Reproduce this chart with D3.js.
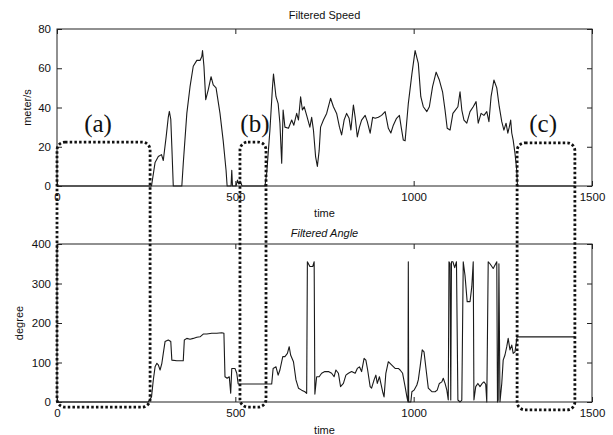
<!DOCTYPE html>
<html>
<head>
<meta charset="utf-8">
<script src="https://cdn.jsdelivr.net/npm/d3@7"></script>
<style>
  html, body { margin: 0; padding: 0; background: #fff; }
  svg { display: block; }
  text { font-family: "Liberation Sans", Arial, Helvetica, sans-serif; fill: #111; }
  .tick text { font-size: 11.5px; }
  .tick line { stroke: #222; stroke-width: 1; }
</style>
</head>
<body>
<svg id="chart" width="613" height="435"></svg>
<script>
// Time ticks shared by both panels, plus each panel's value ticks
const timeTicks = [0, 500, 1000, 1500];
const speedTicks = [0, 20, 40, 60, 80];
const angleTicks = [0, 100, 200, 300, 400];

// Filtered speed, [time, meter/s]
const speedData = [
  [0, 0], [265, 0], [275, 12], [284, 15], [293, 16], [298, 13], [306, 25], [312, 35],
  [315, 38], [319, 34], [322, 20], [326, 0], [350, 0], [354, 11.5], [364, 37], [373, 50.6],
  [382, 61], [392, 64], [401, 64], [406, 66], [408, 69], [412, 61], [417, 44], [424, 49],
  [432, 55.7], [438, 51.5], [446, 50], [457, 37], [466, 23], [474, 8], [477, 0], [488, 0],
  [490, 8], [492, 0], [502, 0], [506, 3], [510, 1], [513, 2.5], [519, 0], [583, 0],
  [588, 6.6], [597, 28.5], [604, 50], [607, 57], [614, 45.5], [620, 42], [625, 32], [630, 11.6],
  [634, 38.7], [639, 30], [649, 29.4], [658, 33.6], [664, 31], [672, 37], [677, 33.6], [683, 45.5],
  [688, 38.7], [693, 40.4], [700, 36], [709, 30], [714, 35], [719, 28.5], [725, 15], [730, 10],
  [735, 18], [739, 30], [747, 33.6], [756, 37], [767, 44.7], [775, 40.4], [784, 37], [792, 30],
  [798, 26], [805, 33.6], [812, 37], [819, 34.5], [824, 28.5], [831, 41.3], [836, 35], [842, 25],
  [848, 30], [854, 33.6], [864, 36], [870, 32.8], [878, 26.9], [885, 35], [892, 34.5], [901, 35],
  [910, 36], [920, 37.9], [929, 29.4], [936, 27], [943, 31], [952, 34.5], [960, 36], [965, 30],
  [971, 23.4], [976, 23], [985, 42], [995, 57], [1004, 69], [1013, 62.5], [1020, 45.5], [1027, 40.4],
  [1037, 37.9], [1044, 40.4], [1053, 50.6], [1063, 58], [1072, 54], [1081, 48], [1088, 38.7], [1094, 29.4],
  [1102, 28.5], [1110, 37], [1117, 38.7], [1124, 40.4], [1130, 48], [1135, 38.7], [1141, 33.6], [1149, 32],
  [1158, 37.9], [1167, 40.4], [1175, 43], [1181, 32], [1189, 37], [1197, 36], [1205, 37.9], [1211, 32.8],
  [1217, 45.5], [1225, 54], [1233, 50], [1240, 40.4], [1247, 32.8], [1253, 28.5], [1259, 32], [1264, 26.9],
  [1268, 30], [1272, 33.6], [1275, 27], [1279, 23.4], [1284, 16.7], [1289, 8], [1291, 0], [1452, 0]
];

// Filtered angle, [time, degree]
const angleData = [
  [0, 0], [256, 0], [265, 13], [270, 55.7], [275, 89], [280, 98], [284, 94], [289, 81],
  [294, 98], [298, 123], [303, 153], [312, 157], [319, 153], [322, 106], [336, 104.6], [354, 104.6],
  [357, 157], [364, 161], [373, 159], [382, 161], [392, 164], [401, 165], [410, 172], [420, 172],
  [434, 174], [448, 174], [462, 175.5], [468, 174], [471, 64], [477, 60], [483, 64], [487, 22],
  [490, 85], [499, 85], [504, 72.7], [508, 45.6], [602, 45.6], [606, 85], [614, 89], [620, 68],
  [625, 81], [633, 115], [639, 115], [646, 123], [651, 140], [655, 119], [663, 102], [670, 56],
  [677, 35], [686, 30], [695, 26], [700, 22], [702, 355], [709, 343], [717, 343], [721, 355],
  [723, 20], [728, 64], [735, 64], [742, 72.7], [751, 77], [761, 77], [770, 72.7], [777, 64],
  [782, 81], [789, 72.7], [795, 39], [803, 47], [810, 68], [817, 72.7], [826, 77], [836, 72.7],
  [842, 85], [848, 89], [854, 77], [861, 110.6], [866, 106], [871, 81], [878, 39], [882, 35],
  [889, 56], [894, 68], [898, 47], [904, 64], [908, 47], [913, 26], [917, 13], [922, 72.7],
  [929, 102], [938, 94], [948, 85], [957, 85], [962, 81], [969, 72.7], [976, 39], [981, 13],
  [984, 0], [985, 355], [986, 0], [992, 0], [995, 26], [1001, 30], [1009, 43], [1013, 56],
  [1018, 89], [1024, 132], [1029, 127], [1035, 81], [1041, 35], [1051, 26], [1060, 26], [1066, 30],
  [1072, 47], [1079, 51], [1083, 60], [1088, 47], [1093, 30], [1097, 5], [1099, 355], [1102, 350],
  [1104, 5], [1106, 355], [1110, 355], [1115, 340], [1120, 355], [1124, 5], [1130, 0], [1135, 5],
  [1139, 355], [1144, 320], [1150, 254], [1158, 254], [1163, 292], [1167, 355], [1169, 5], [1174, 39],
  [1180, 47], [1186, 39], [1192, 47], [1197, 51], [1202, 45], [1205, 0], [1209, 355], [1214, 350],
  [1223, 338], [1233, 355], [1235, 0], [1237, 5], [1239, 350], [1242, 1], [1247, 47], [1251, 106],
  [1256, 119], [1261, 140], [1265, 161], [1270, 132], [1275, 144], [1279, 123], [1284, 127], [1290, 165],
  [1452, 165]
];

// Dotted callouts spanning both panels: time range, top (speed units), bottom (degree units)
const callouts = [
  { label: "(a)", t0: 0,    t1: 261,  top: 22.4, bottom: -13, labelT: 115 },
  { label: "(b)", t0: 513,  t1: 586,  top: 22.4, bottom: -13, labelT: 555 },
  { label: "(c)", t0: 1290, t1: 1452, top: 22,   bottom: -20, labelT: 1363 }
];
const calloutLabelSpeed = 27.5;

const svg = d3.select("#chart");

const x = d3.scaleLinear().domain([0, 1500]).range([57, 592]);
const ySpeed = d3.scaleLinear().domain([0, 80]).range([186, 29]);
const yAngle = d3.scaleLinear().domain([0, 400]).range([402, 244]);
const plain = d3.format("d");

function panel(y, ticks, data, title, titleY, italic, yLabel, yLabelX, timeY) {
  const g = svg.append("g");
  const [y0, y1] = y.range();

  // trace
  g.append("path")
    .datum(data)
    .attr("fill", "none")
    .attr("stroke", "#1a1a1a")
    .attr("stroke-width", 1.1)
    .attr("stroke-linejoin", "round")
    .attr("d", d3.line().x(d => x(d[0])).y(d => y(d[1])));

  // axes with inward ticks on all four sides
  const bottom = g.append("g").attr("transform", `translate(0,${y0})`)
    .call(d3.axisBottom(x).tickValues(timeTicks).tickFormat(plain)
      .tickSizeInner(-5).tickSizeOuter(0).tickPadding(7));
  const top = g.append("g").attr("transform", `translate(0,${y1})`)
    .call(d3.axisTop(x).tickValues(timeTicks).tickSizeInner(-5).tickSizeOuter(0).tickFormat(""));
  const left = g.append("g").attr("transform", `translate(${x.range()[0]},0)`)
    .call(d3.axisLeft(y).tickValues(ticks).tickFormat(plain)
      .tickSizeInner(-5).tickSizeOuter(0).tickPadding(6));
  const right = g.append("g").attr("transform", `translate(${x.range()[1]},0)`)
    .call(d3.axisRight(y).tickValues(ticks).tickSizeInner(-5).tickSizeOuter(0).tickFormat(""));
  [bottom, top, left, right].forEach(a => a.select(".domain").remove());

  // frame
  g.append("rect")
    .attr("x", x.range()[0]).attr("y", y1)
    .attr("width", x.range()[1] - x.range()[0]).attr("height", y0 - y1)
    .attr("fill", "none").attr("stroke", "#222").attr("stroke-width", 1);

  const cx = (x.range()[0] + x.range()[1]) / 2;
  g.append("text").attr("x", cx).attr("y", titleY)
    .attr("text-anchor", "middle").attr("font-size", 11)
    .attr("font-style", italic ? "italic" : "normal")
    .text(title);
  g.append("text").attr("x", cx).attr("y", timeY)
    .attr("text-anchor", "middle").attr("font-size", 11)
    .text("time");
  g.append("text")
    .attr("transform", `translate(${yLabelX},${(y0 + y1) / 2}) rotate(-90)`)
    .attr("text-anchor", "middle").attr("font-size", 11)
    .text(yLabel);
}

panel(ySpeed, speedTicks, speedData, "Filtered Speed", 19, false, "meter/s", 31, 217);
panel(yAngle, angleTicks, angleData, "Filtered Angle", 237, true, "degree", 23, 434);

// rounded dotted callout boxes
function roundedBox(x0, y0, x1, y1, r) {
  const p = d3.path();
  p.moveTo(x0 + r, y0);
  p.lineTo(x1 - r, y0);
  p.arcTo(x1, y0, x1, y0 + r, r);
  p.lineTo(x1, y1 - r);
  p.arcTo(x1, y1, x1 - r, y1, r);
  p.lineTo(x0 + r, y1);
  p.arcTo(x0, y1, x0, y1 - r, r);
  p.lineTo(x0, y0 + r);
  p.arcTo(x0, y0, x0 + r, y0, r);
  p.closePath();
  return p.toString();
}

const ann = svg.append("g");
ann.selectAll("path.callout")
  .data(callouts)
  .join("path")
  .attr("class", "callout")
  .attr("d", d => roundedBox(x(d.t0), ySpeed(d.top), x(d.t1), yAngle(d.bottom), 8))
  .attr("fill", "none")
  .attr("stroke", "#111")
  .attr("stroke-width", 2.8)
  .attr("stroke-dasharray", "2.5 2.2");

ann.selectAll("text.callout-label")
  .data(callouts)
  .join("text")
  .attr("class", "callout-label")
  .attr("x", d => x(d.labelT))
  .attr("y", ySpeed(calloutLabelSpeed))
  .attr("text-anchor", "middle")
  .style("font-family", "'Liberation Serif', 'Times New Roman', serif")
  .attr("font-size", 25)
  .text(d => d.label);
</script>
</body>
</html>
